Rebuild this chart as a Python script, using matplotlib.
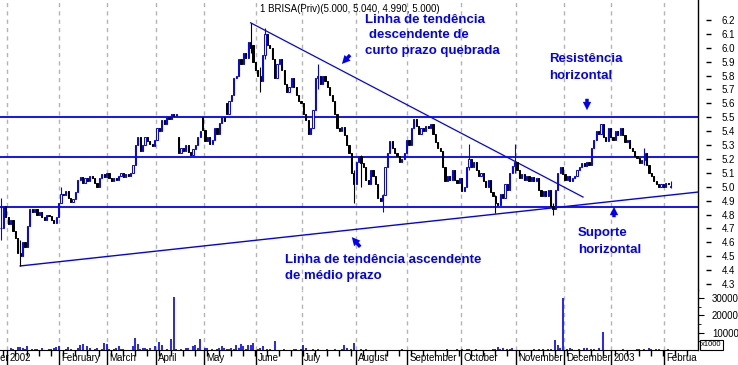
import matplotlib
matplotlib.use("Agg")
import matplotlib.pyplot as plt
import numpy as np
from matplotlib.patches import FancyArrowPatch

# daily closes, Dec 2001 .. Feb 2003 (one per trading day)
closes = [
    4.70, 4.86, 4.78, 4.73, 4.76, 4.68, 4.63, 4.52, 4.50, 4.60,
    4.57, 4.72, 4.84, 4.82, 4.84, 4.80, 4.82, 4.78, 4.76, 4.80,
    4.79, 4.76, 4.74, 4.78, 4.88, 4.95, 4.94, 4.97, 4.92, 4.89,
    4.91, 4.96, 5.05, 5.07, 5.03, 5.06, 5.04, 5.08, 5.06, 5.03,
    5.00, 5.06, 5.09, 5.07, 5.10, 5.06, 5.04, 5.06, 5.05, 5.08,
    5.10, 5.07, 5.09, 5.08, 5.10, 5.16, 5.30, 5.36, 5.26, 5.30,
    5.36, 5.33, 5.31, 5.29, 5.34, 5.42, 5.40, 5.48, 5.45, 5.50,
    5.49, 5.52, 5.51, 5.52, 5.24, 5.28, 5.26, 5.30, 5.25, 5.23,
    5.27, 5.30, 5.36, 5.40, 5.41, 5.33, 5.36, 5.31, 5.34, 5.42,
    5.38, 5.46, 5.50, 5.47, 5.52, 5.62, 5.66, 5.78, 5.80, 5.92,
    5.88, 5.96, 5.93, 6.04, 6.00, 5.90, 5.84, 5.80, 5.76, 5.95,
    6.10, 6.02, 6.00, 5.92, 5.78, 5.88, 5.92, 5.84, 5.74, 5.68,
    5.72, 5.78, 5.72, 5.66, 5.62, 5.60, 5.52, 5.48, 5.38, 5.42,
    5.55, 5.78, 5.80, 5.74, 5.80, 5.76, 5.72, 5.66, 5.62, 5.52,
    5.42, 5.40, 5.43, 5.37, 5.30, 5.24, 5.10, 5.02, 5.18, 5.22,
    5.17, 5.14, 5.05, 5.02, 5.12, 5.08, 5.02, 4.92, 4.90, 4.94,
    5.14, 5.24, 5.33, 5.28, 5.24, 5.22, 5.18, 5.20, 5.24, 5.34,
    5.30, 5.42, 5.49, 5.44, 5.38, 5.42, 5.40, 5.44, 5.42, 5.45,
    5.38, 5.32, 5.28, 5.26, 5.14, 5.04, 5.08, 5.05, 5.12, 5.05,
    5.03, 5.06, 4.97, 5.00, 5.14, 5.20, 5.14, 5.18, 5.12, 5.08,
    5.10, 5.04, 5.00, 5.05, 4.96, 4.93, 4.88, 4.87, 4.95, 4.92,
    5.02, 4.98, 5.10, 5.15, 5.18, 5.12, 5.06, 5.09, 5.05, 5.08,
    5.04, 5.07, 5.04, 5.06, 4.98, 4.93, 4.97, 4.93, 4.98, 4.86,
    4.84, 4.98, 5.10, 5.14, 5.09, 5.05, 5.08, 5.04, 5.06, 5.08,
    5.12, 5.14, 5.17, 5.15, 5.18, 5.16, 5.28, 5.34, 5.40, 5.38,
    5.45, 5.36, 5.33, 5.42, 5.36, 5.34, 5.40, 5.37, 5.42, 5.37,
    5.32, 5.34, 5.28, 5.26, 5.22, 5.21, 5.17, 5.19, 5.24, 5.16,
    5.10, 5.08, 5.04, 5.02, 5.00, 5.02, 5.00, 5.03, 5.02, 5.00,
]
# opens that gap away from the previous close
gap_opens = {74: 5.36, 84: 5.50, 94: 5.60, 105: 6.02, 279: 5.00}
# visible shadows: bar -> (low, high)
shadows = {
    0: (4.62, 4.92), 8: (4.43, 4.62), 25: (4.90, 5.00), 104: (5.96, 6.18),
    108: (5.68, 5.86), 110: (5.92, 6.14), 132: (5.70, 5.88), 147: (4.88, 5.12),
    150: (5.00, 5.23), 159: (4.82, 4.95), 195: (5.12, 5.31), 206: (4.81, 4.94),
    214: (5.10, 5.31), 230: (4.80, 4.88), 268: (5.16, 5.28), 279: (4.99, 5.04),
}

# volume (x1000) on days where a bar is visible
vol_day = [4, 5, 7, 8, 9, 10, 11, 13, 14, 15, 17, 20, 21, 22, 23, 24, 27, 28, 29, 32,
           33, 34, 36, 37, 39, 40, 42, 43, 44, 45, 47, 48, 49, 50, 51, 55, 56, 57, 58, 59,
           60, 61, 62, 64, 66, 67, 69, 71, 72, 73, 75, 77, 78, 80, 81, 82, 83, 85, 86, 88,
           90, 91, 92, 93, 94, 95, 96, 97, 98, 99, 100, 101, 102, 103, 104, 105, 107, 108, 109, 111,
           112, 114, 118, 122, 123, 125, 126, 127, 130, 132, 136, 139, 142, 143, 144, 146, 147, 150, 152, 167,
           186, 190, 192, 194, 195, 198, 205, 206, 207, 208, 209, 211, 212, 213, 222, 224, 226, 228, 229, 231,
           232, 233, 234, 236, 237, 238, 241, 243, 244, 246, 247, 249, 251, 259, 265, 266, 268, 270, 271, 273,
           274, 278]
vol_k = [0.9, 0.6, 1.9, 1.9, 1.0, 0.6, 2.3, 0.6, 0.6, 0.6, 1.0, 0.6, 0.6, 1.0, 1.9, 2.3, 0.6, 1.9, 0.6, 1.0,
         2.9, 3.5, 2.3, 1.0, 0.6, 1.0, 0.6, 3.9, 3.5, 0.6, 0.6, 1.0, 2.3, 0.6, 0.6, 2.3, 6.8, 3.5, 0.6, 1.0,
         1.0, 0.6, 1.0, 2.3, 4.5, 2.9, 0.6, 6.2, 30.5, 0.6, 0.6, 1.0, 1.0, 2.3, 2.9, 1.0, 6.2, 1.0, 1.0, 0.6,
         0.6, 1.0, 2.3, 1.0, 0.6, 0.6, 1.0, 0.6, 2.9, 1.0, 3.5, 2.3, 0.6, 2.9, 2.9, 4.0, 0.6, 1.0, 2.3, 0.6,
         0.6, 5.2, 0.6, 0.6, 0.6, 0.6, 2.9, 1.0, 0.6, 0.6, 0.6, 0.6, 0.6, 2.9, 1.0, 0.6, 4.2, 0.6, 0.6, 0.6,
         0.6, 0.6, 0.6, 0.6, 0.6, 0.6, 0.6, 0.6, 1.9, 0.6, 1.0, 0.6, 0.6, 1.0, 0.6, 0.6, 0.6, 0.6, 0.6, 5.8,
         2.9, 1.0, 30.0, 0.6, 1.0, 0.6, 0.6, 1.0, 1.0, 0.6, 0.6, 1.0, 10.4, 0.6, 0.6, 0.6, 0.6, 1.0, 0.6, 0.6,
         0.6, 0.6]

# first trading day of each month (bar index) and labels
month_pos = [2.5, 24.2, 44.2, 64.6, 84.6, 106.2, 125.4, 147.9, 169.2, 191.7, 214.6, 234.6, 254.2, 276.2]
month_lab = ["2002", "February", "March", "April", "May", "June", "July", "August",
             "September", "October", "November", "December", "2003", "Februa"]

resistance = 5.50
mid_level = 5.214
support = 4.854
up_trend = [(8, 4.43), (290.4, 4.962)]
down_trend = [(104, 6.18), (242.5, 4.926)]

BLUE = "#0000FF"
W, H = 738, 365
plt.rcParams["font.family"] = ["Liberation Sans", "DejaVu Sans"]


def fp(x, y):
    return x / W, 1 - y / H


fig = plt.figure(figsize=(W / 100, H / 100), dpi=100)
ax = fig.add_axes([0, 75 / H, 698 / W, 290 / H])
axv = fig.add_axes([0, 15 / H, 698 / W, 60 / H], sharex=ax)

n = len(closes)
idx = np.arange(n)
c = np.array(closes)
o = np.concatenate([[c[0]], c[:-1]])
for k, v in gap_opens.items():
    o[k] = v
hi = np.maximum(o, c)
lo = np.minimum(o, c)
for k, (l, h) in shadows.items():
    lo[k] = min(lo[k], l)
    hi[k] = max(hi[k], h)

up = c >= o
col = np.where(up, BLUE, "black")
ax.vlines(idx, lo, hi, colors=col, linewidth=0.8, zorder=3)
body = np.maximum(np.abs(c - o), 0.004)
ax.bar(idx[up], body[up], bottom=np.minimum(o, c)[up], width=0.5,
       facecolor="white", edgecolor=BLUE, linewidth=0.7, zorder=4)
ax.bar(idx[~up], body[~up], bottom=np.minimum(o, c)[~up], width=0.5,
       facecolor="black", edgecolor="black", linewidth=0.7, zorder=4)

for level in (resistance, mid_level, support):
    ax.axhline(level, color=BLUE, linewidth=1.3, zorder=2)
ax.plot(*zip(*up_trend), color=BLUE, linewidth=1.0, zorder=2)
ax.plot(*zip(*down_trend), color=BLUE, linewidth=0.9, zorder=2)

axv.vlines(vol_day, 0, np.array(vol_k) * 1000, colors=BLUE, linewidth=1.2)

for a in (ax, axv):
    for m in month_pos:
        a.axvline(m, color="#b4b4b4", linewidth=1.0, linestyle=(0, (3, 3)), zorder=1)
    for s in ("left", "top"):
        a.spines[s].set_visible(False)
    a.spines["right"].set_linewidth(1.0)

ax.spines["bottom"].set_visible(False)
ax.set_xlim(-0.42, 290.4)
ax.set_ylim(4.257, 6.344)
axv.set_ylim(0, 34600)

# price scale
yt = np.round(np.arange(4.3, 6.25, 0.1), 1)
ax.yaxis.tick_right()
ax.set_yticks(yt)
ax.set_yticklabels([f"{v:.1f}" for v in yt])
ax.tick_params(axis="y", length=0, pad=17, labelsize=7)
ax.hlines(yt, 1 + 8 / 698, 1 + 13 / 698, transform=ax.get_yaxis_transform(),
          colors="black", linewidth=1.0, clip_on=False)
ax.tick_params(axis="x", bottom=False, labelbottom=False)

# volume scale
axv.yaxis.tick_right()
axv.set_yticks([10000, 20000, 30000])
axv.set_yticklabels(["10000", "20000", "30000"])
axv.set_yticks([5000, 15000, 25000], minor=True)
axv.tick_params(axis="y", which="major", length=4, pad=6, labelsize=7)
axv.tick_params(axis="y", which="minor", length=2)
axv.set_xticks(month_pos)
axv.set_xticklabels([])
axv.set_xticks(np.arange(1, 290, 5), minor=True)
axv.tick_params(axis="x", which="major", length=15, width=1.0)
axv.tick_params(axis="x", which="minor", length=4, width=1.0)

tr = axv.get_xaxis_transform()
for m, lab in zip(month_pos, month_lab):
    axv.text(m + 0.9, -0.14, lab, transform=tr, fontsize=7, ha="left", va="center")
axv.text(-15.5, -0.14, "December", transform=tr, fontsize=7, ha="left", va="center", clip_on=False)

fig.text(*fp(701, 345), "x1000", fontsize=5.5, ha="left", va="center",
         bbox=dict(boxstyle="square,pad=0.15", facecolor="white", edgecolor="black", linewidth=0.8))

fig.text(*fp(260, 9), "1 BRISA(Priv)(5.000, 5.040, 4.990, 5.000)", fontsize=7, ha="left", va="center")

notes = [
    (365, 23, "Linha de tendência"),
    (369, 38, "descendente de"),
    (365, 54, "curto prazo quebrada"),
    (549, 62, "Resistência"),
    (549, 79, "horizontal"),
    (578, 236, "Suporte"),
    (578, 253, "horizontal"),
    (285, 263, "Linha de tendência ascendente"),
    (285, 279, "de médio prazo"),
]
for x, y, s in notes:
    fig.text(*fp(x, y), s, color=BLUE, fontsize=9.5, fontweight="bold", ha="left", va="baseline")

arrows = [((352, 53), (340, 66)), ((587, 96), (587, 113)),
          ((362, 249), (350, 235)), ((614, 220), (614, 204))]
for tail, head in arrows:
    fig.add_artist(FancyArrowPatch(fp(*tail), fp(*head), transform=fig.transFigure,
                                   arrowstyle="simple,head_width=6,head_length=6,tail_width=2.5",
                                   mutation_scale=1, color=BLUE, linewidth=0))

fig.savefig("out.png", dpi=100)
